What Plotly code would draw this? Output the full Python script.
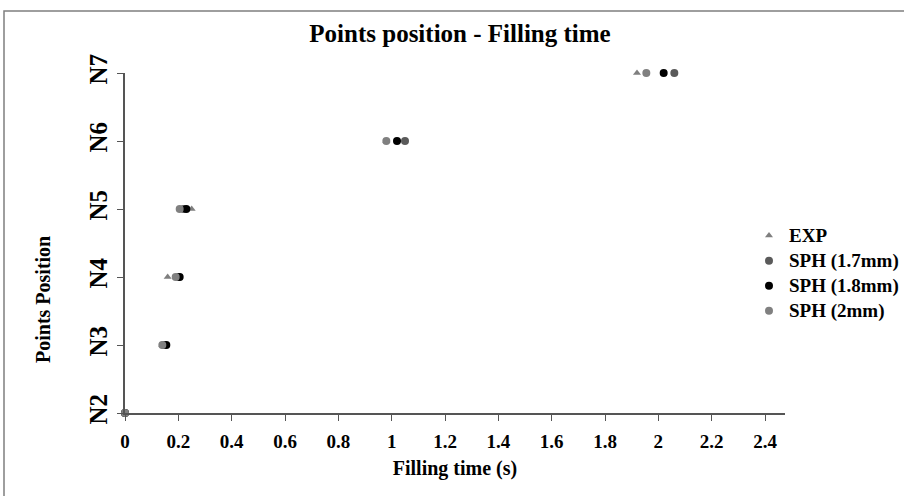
import plotly.graph_objects as go

positions = [2, 3, 4, 5, 6, 7]
pos_labels = ["N2", "N3", "N4", "N5", "N6", "N7"]

exp_time = [0.0, 0.14, 0.16, 0.25, 0.98, 1.92]
sph17_time = [0.0, 0.145, 0.20, 0.22, 1.05, 2.06]
sph18_time = [0.0, 0.155, 0.205, 0.23, 1.02, 2.02]
sph2_time = [0.0, 0.14, 0.19, 0.205, 0.98, 1.955]

series_names = ["EXP", "SPH (1.7mm)", "SPH (1.8mm)", "SPH (2mm)"]

x_ticks = [0, 0.2, 0.4, 0.6, 0.8, 1, 1.2, 1.4, 1.6, 1.8, 2, 2.2, 2.4]
x_tick_labels = ["0", "0.2", "0.4", "0.6", "0.8", "1", "1.2", "1.4", "1.6", "1.8", "2", "2.2", "2.4"]

FONT = "Liberation Serif"


def legend_name(s):
    return "<span style='font-size:19px'><b>%s</b></span>" % s


fig = go.Figure()
fig.add_trace(go.Scatter(x=exp_time, y=positions, mode="markers", name=legend_name(series_names[0]),
                         marker=dict(symbol="triangle-up", size=7, color="#7f7f7f"),
                         cliponaxis=False))
fig.add_trace(go.Scatter(x=sph17_time, y=positions, mode="markers", name=legend_name(series_names[1]),
                         marker=dict(symbol="circle", size=8, color="#5a5a5a"),
                         cliponaxis=False))
fig.add_trace(go.Scatter(x=sph18_time, y=positions, mode="markers", name=legend_name(series_names[2]),
                         marker=dict(symbol="circle", size=8, color="#000000"),
                         cliponaxis=False))
fig.add_trace(go.Scatter(x=sph2_time, y=positions, mode="markers", name=legend_name(series_names[3]),
                         marker=dict(symbol="circle", size=8, color="#808080"),
                         cliponaxis=False))

L, R, T, B = 125, 119, 73, 83
W, H = 904, 496
pw = W - L - R
ph = H - T - B

fig.update_layout(
    width=W, height=H,
    margin=dict(l=L, r=R, t=T, b=B, autoexpand=False),
    paper_bgcolor="white", plot_bgcolor="white",
    font=dict(family=FONT, color="black"),
    title=dict(text="<b>Points position - Filling time</b>", x=(460 - L) / pw, xref="paper",
               xanchor="center", y=1 - 33 / H, yanchor="middle",
               font=dict(family=FONT, size=25)),
    showlegend=True,
    legend=dict(x=(749 - L) / pw, y=(413 - 218) / ph, xanchor="left", yanchor="top",
                font=dict(family=FONT, size=17), itemwidth=30, tracegroupgap=0,
                bgcolor="rgba(0,0,0,0)"),
    xaxis=dict(range=[0, 2.475], tickvals=x_ticks,
               ticktext=["<b>%s</b>" % t for t in x_tick_labels],
               automargin=False,
               showgrid=False, zeroline=False, showline=True, linecolor="#555555", linewidth=1.5,
               ticks="outside", ticklen=6, tickcolor="#555555", ticklabelstandoff=4,
               tickfont=dict(family=FONT, size=19, color="black"),
               title=dict(text="<b>Filling time (s)</b>", font=dict(family=FONT, size=20), standoff=10)),
    yaxis=dict(range=[2, 7], tickvals=positions, ticktext=["<b>%s</b>" % t for t in pos_labels],
               tickangle=-90, automargin=False,
               showgrid=False, zeroline=False, showline=True, linecolor="#555555", linewidth=1.5,
               ticks="outside", ticklen=6, tickcolor="#555555",
               tickfont=dict(family=FONT, size=25, color="black")),
)

# y-axis title, placed lower than the plot centre as in the reference
fig.add_annotation(text="<b>Points Position</b>", textangle=-90, showarrow=False,
                   xref="paper", yref="paper", x=(43 - L) / pw, y=(413 - 300) / ph,
                   xanchor="center", yanchor="middle", font=dict(family=FONT, size=20))

# outer frame of the chart area
fig.add_shape(type="rect", xref="paper", yref="paper",
              x0=(4 - L) / pw, x1=(912 - L) / pw,
              y0=(413 - 502) / ph, y1=(413 - 11) / ph,
              line=dict(color="#7f7f7f", width=1.5), fillcolor="rgba(0,0,0,0)", layer="below")

fig.write_html("out.html", config={"displayModeBar": False},
               post_script="document.body.style.margin='0px';document.body.style.overflow='hidden';")
